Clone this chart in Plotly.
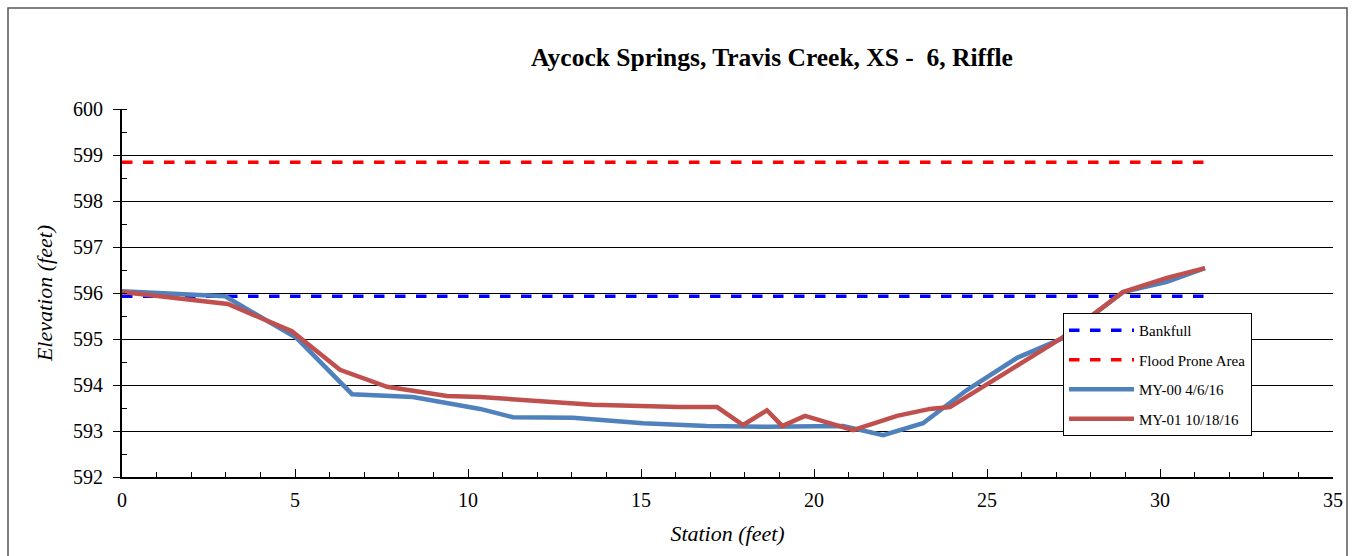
import plotly.graph_objects as go

# Data
bank_x = [0, 31.3]
bank_y = [595.93, 595.93]
flood_x = [0, 31.3]
flood_y = [598.84, 598.84]

my00_x = [0, 2.98, 5.05, 6.65, 8.41, 10.35, 11.3, 13.03, 15.06, 16.9, 18.64, 20.84, 22.0, 23.15, 24.42, 25.87, 27.2, 28.93, 30.2, 31.3]
my00_y = [596.04, 595.93, 595.02, 593.80, 593.74, 593.48, 593.30, 593.29, 593.17, 593.11, 593.09, 593.11, 592.91, 593.17, 593.89, 594.59, 595.02, 596.02, 596.24, 596.54]

my01_x = [0, 3.06, 4.91, 6.3, 7.66, 9.39, 10.35, 12.17, 13.6, 16.1, 17.2, 17.95, 18.64, 19.08, 19.74, 21.13, 22.4, 23.35, 23.93, 27.2, 28.93, 30.2, 31.3]
my01_y = [596.02, 595.76, 595.17, 594.33, 593.96, 593.76, 593.74, 593.65, 593.57, 593.52, 593.52, 593.13, 593.45, 593.11, 593.33, 593.02, 593.33, 593.48, 593.52, 595.04, 596.02, 596.33, 596.54]

W, H = 1354, 556
L, R, T, B = 122, 21, 109, 79
pw, ph = W - L - R, H - T - B

fig = go.Figure()
fig.add_trace(go.Scatter(x=bank_x, y=bank_y, mode="lines", name="Bankfull", legendgroup="a",
                         line=dict(color="#0000FF", width=3.5, dash="dash")))
fig.add_trace(go.Scatter(x=flood_x, y=flood_y, mode="lines", name="Flood Prone Area", legendgroup="b",
                         line=dict(color="#FF0000", width=3.5, dash="dash")))
fig.add_trace(go.Scatter(x=my00_x, y=my00_y, mode="lines", name="MY-00 4/6/16", legendgroup="c",
                         line=dict(color="#4F81BD", width=4.5)))
fig.add_trace(go.Scatter(x=my01_x, y=my01_y, mode="lines", name="MY-01 10/18/16", legendgroup="d",
                         line=dict(color="#C0504D", width=4.5)))

font_family = "Liberation Serif, Times New Roman, serif"

fig.update_layout(
    width=W, height=H,
    margin=dict(l=L, r=R, t=T, b=B),
    paper_bgcolor="white", plot_bgcolor="white",
    font=dict(family=font_family, color="black", size=20),
    title=dict(text="<b>Aycock Springs, Travis Creek, XS -  6, Riffle</b>",
               x=(772) / W, xanchor="center", y=1 - 57 / H, yanchor="middle",
               font=dict(size=25.5, family=font_family)),
    showlegend=True,
    legend=dict(x=(1063 - L) / pw, y=(H - B - 313) / ph, xanchor="left", yanchor="top",
                bgcolor="white", bordercolor="black", borderwidth=1,
                font=dict(size=15, family=font_family), tracegroupgap=7,
                itemwidth=65),
    xaxis=dict(range=[0, 35], dtick=5, tick0=0, showgrid=False, zeroline=False,
               showline=True, linecolor="black", linewidth=2,
               ticks="inside", ticklen=8, tickcolor="black", ticklabelstandoff=4,
               minor=dict(dtick=1, ticks="inside", ticklen=5, tickcolor="black", showgrid=False),
               title=dict(text="<i>Station (feet)</i>", font=dict(size=22, family=font_family), standoff=16),
               tickfont=dict(size=20, family=font_family)),
    yaxis=dict(range=[592, 600], dtick=1, tick0=592, showgrid=True, gridcolor="black", gridwidth=1,
               zeroline=False, showline=True, linecolor="black", linewidth=2,
               ticks="outside", ticklen=7, tickcolor="black", ticklabelstandoff=6,
               minor=dict(dtick=0.5, ticks="inside", ticklen=5, tickcolor="black", showgrid=False),
               title=dict(text="<i>Elevation (feet)</i>", font=dict(size=22, family=font_family), standoff=14),
               tickfont=dict(size=20, family=font_family)),
)

# outer chart border
fig.add_shape(type="rect", xref="paper", yref="paper",
              x0=(8 - L) / pw, x1=(1347 - L) / pw,
              y0=(H - B - 560) / ph, y1=(H - B - 8) / ph,
              line=dict(color="#555555", width=1.5), fillcolor="rgba(0,0,0,0)", layer="below")

fig.write_html("out.html")
